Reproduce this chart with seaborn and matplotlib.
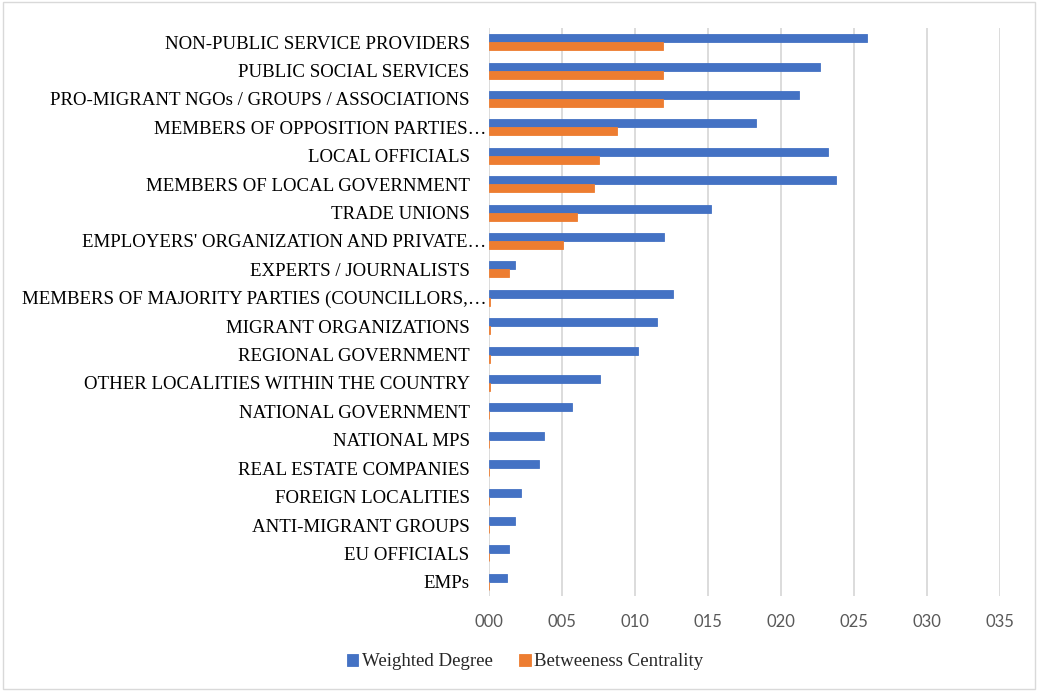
import matplotlib
matplotlib.use("Agg")
import matplotlib.pyplot as plt
import matplotlib.transforms as mtransforms
import seaborn as sns
import pandas as pd
from matplotlib.patches import Rectangle

categories = [
    "NON-PUBLIC SERVICE PROVIDERS",
    "PUBLIC SOCIAL SERVICES",
    "PRO-MIGRANT NGOs / GROUPS / ASSOCIATIONS",
    "MEMBERS OF OPPOSITION PARTIES…",
    "LOCAL OFFICIALS",
    "MEMBERS OF LOCAL GOVERNMENT",
    "TRADE UNIONS",
    "EMPLOYERS' ORGANIZATION AND PRIVATE…",
    "EXPERTS / JOURNALISTS",
    "MEMBERS OF MAJORITY PARTIES (COUNCILLORS,…",
    "MIGRANT ORGANIZATIONS",
    "REGIONAL GOVERNMENT",
    "OTHER LOCALITIES WITHIN THE COUNTRY",
    "NATIONAL GOVERNMENT",
    "NATIONAL MPS",
    "REAL ESTATE COMPANIES",
    "FOREIGN LOCALITIES",
    "ANTI-MIGRANT GROUPS",
    "EU OFFICIALS",
    "EMPs",
]
weighted_degree = [0.259, 0.227, 0.212, 0.183, 0.232, 0.238, 0.152, 0.120, 0.018, 0.126,
                   0.115, 0.102, 0.076, 0.057, 0.038, 0.034, 0.022, 0.018, 0.0135, 0.012]
betweenness = [0.119, 0.119, 0.119, 0.088, 0.075, 0.072, 0.060, 0.051, 0.014, 0.001,
               0.001, 0.001, 0.001, 0.0, 0.0, 0.0, 0.0, 0.0, 0.0, 0.0]
series_names = ["Weighted Degree", "Betweeness Centrality"]
x_ticks = [0.0, 0.05, 0.10, 0.15, 0.20, 0.25, 0.30, 0.35]
x_tick_labels = ["000", "005", "010", "015", "020", "025", "030", "035"]

df = pd.DataFrame({
    "category": categories * 2,
    "value": weighted_degree + betweenness,
    "series": [series_names[0]] * len(categories) + [series_names[1]] * len(categories),
})

sns.set_theme(style="white")
plt.rcParams["font.family"] = ["Liberation Serif", "DejaVu Serif"]

fig = plt.figure(figsize=(10.38, 6.91), dpi=100)
ax = fig.add_axes([489 / 1038, 1 - 596 / 691, (1000 - 489) / 1038, (596 - 28) / 691])

palette = {series_names[0]: "#4472C4", series_names[1]: "#ED7D31"}
sns.barplot(data=df, x="value", y="category", hue="series", order=categories,
            hue_order=series_names, palette=palette, orient="h", width=0.56,
            saturation=1, ax=ax, legend=True)
for p in ax.patches:
    p.set_edgecolor(p.get_facecolor())
    p.set_linewidth(0.6)

ax.set_xlim(0, 0.35)
ax.set_xticks(x_ticks)
ax.set_xticklabels(x_tick_labels, fontfamily="Lato", fontsize=12, color="#595959")
ax.tick_params(axis="x", length=0, pad=13)
ax.tick_params(axis="y", length=0, pad=14, labelsize=13.6, labelcolor="#000000")
ax.xaxis.grid(True, color="#d9d9d9", linewidth=1.3)
ax.yaxis.grid(False)
ax.set_axisbelow(True)
for s in ax.spines.values():
    s.set_visible(False)
ax.set_xlabel("")
ax.set_ylabel("")

# truncated (ellipsis) labels extend up to the axis, as in the original
shift = mtransforms.ScaledTranslation(17 / 100, 0, fig.dpi_scale_trans)
for lbl in ax.get_yticklabels():
    if lbl.get_text().endswith("…"):
        lbl.set_transform(lbl.get_transform() + shift)

handles, labels = ax.get_legend_handles_labels()
ax.get_legend().remove()
fig.legend(handles, labels, loc="center", bbox_to_anchor=(0.506, 0.042), ncol=2,
           frameon=False, fontsize=13.6, handlelength=0.6, handleheight=0.6,
           handletextpad=0.2, columnspacing=1.4)

fig.patches.append(Rectangle((0.003, 0.003), 0.994, 0.994, transform=fig.transFigure,
                             fill=False, edgecolor="#d9d9d9", linewidth=1))

fig.savefig("out.png", dpi=100)
